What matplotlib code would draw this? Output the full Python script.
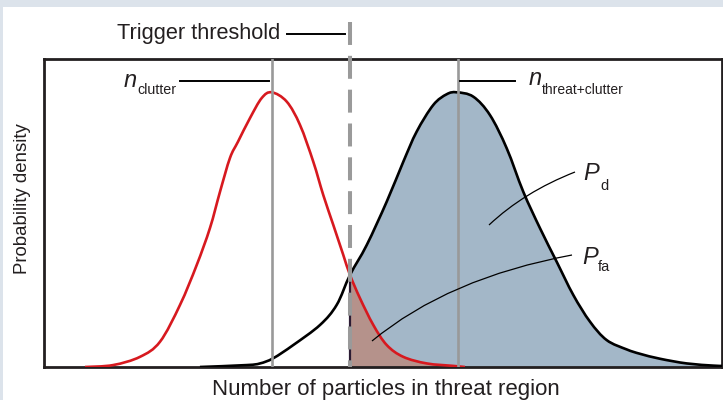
import matplotlib
matplotlib.use("Agg")
import matplotlib.pyplot as plt
import numpy as np
from matplotlib.path import Path
from matplotlib.patches import PathPatch, Rectangle
from matplotlib.transforms import Affine2D

plt.rcParams['font.family'] = ['Liberation Sans', 'DejaVu Sans']

# clutter-only distribution
clutter_x = [6.05, 10.18, 14.16, 17.11, 20.06, 22.52, 24.48, 25.96, 27.43, 28.61, 30.38,
             32.11, 33.58, 35.80, 37.76, 39.72, 41.19, 42.67, 44.14, 45.13, 46.61, 48.57,
             50.55, 52.99, 56.45, 60.37, 62.09]
clutter_y = [0.0, 0.007, 0.037, 0.092, 0.226, 0.371, 0.506, 0.638, 0.761, 0.820, 0.906,
             0.979, 1.000, 0.966, 0.881, 0.747, 0.626, 0.517, 0.408, 0.335, 0.250, 0.153,
             0.080, 0.037, 0.013, 0.004, 0.0]

# threat + clutter distribution
threat_x = [23.0, 29.90, 31.86, 33.82, 36.77, 40.71, 43.17, 45.13, 47.60, 50.55, 52.99,
            54.97, 57.42, 59.40, 60.87, 63.32, 65.78, 68.25, 70.69, 73.16, 75.62, 78.07,
            80.53, 82.99, 85.94, 87.91, 90.86, 94.79, 98.72, 100.0]
threat_y = [0.0, 0.007, 0.013, 0.032, 0.080, 0.153, 0.226, 0.335, 0.444, 0.602, 0.747,
            0.857, 0.954, 0.993, 1.000, 0.984, 0.917, 0.796, 0.638, 0.505, 0.383, 0.262,
            0.165, 0.098, 0.064, 0.048, 0.030, 0.013, 0.005, 0.004]

threshold = 45.13
n_clutter = 33.7
n_threat = 61.0


def smooth_path(xs, ys, start=0, fill=False):
    # catmull-rom through the read points, as bezier segments
    P = np.column_stack([xs, ys]).astype(float)
    n = len(P)
    verts = [P[start]]
    codes = [Path.MOVETO]
    for i in range(start, n - 1):
        p0 = P[max(i - 1, 0)]
        p1 = P[i]
        p2 = P[i + 1]
        p3 = P[min(i + 2, n - 1)]
        verts += [p1 + (p2 - p0) / 6, p2 - (p3 - p1) / 6, p2]
        codes += [Path.CURVE4] * 3
    if fill:
        verts += [(P[-1][0], 0), (P[start][0], 0), (0, 0)]
        codes += [Path.LINETO, Path.LINETO, Path.CLOSEPOLY]
    return Path(verts, codes)


W, H = 723, 400
fig = plt.figure(figsize=(7.23, 4.0), dpi=100)
fig.patch.set_facecolor('white')
bg = '#dce3eb'
fig.patches.append(Rectangle((0, 1 - 7 / H), 1, 7 / H, transform=fig.transFigure,
                             facecolor=bg, edgecolor='none', zorder=0))
fig.patches.append(Rectangle((0, 0), 3 / W, 1, transform=fig.transFigure,
                             facecolor=bg, edgecolor='none', zorder=0))

ax = fig.add_axes([44 / W, 33 / H, 678 / W, 308 / H])
ax.set_xlim(0, 100)
ax.set_ylim(0, 1.1212)
ax.set_xticks([])
ax.set_yticks([])
for s in ax.spines.values():
    s.set_color('#231f20')
    s.set_linewidth(2.0)

i_thr_t = threat_x.index(threshold)
i_thr_c = clutter_x.index(threshold)

ax.add_patch(PathPatch(smooth_path(threat_x, threat_y, i_thr_t, fill=True),
                       facecolor='#a3b7c8', edgecolor='none', zorder=1))
ax.add_patch(PathPatch(smooth_path(clutter_x, clutter_y, i_thr_c, fill=True),
                       facecolor='#b5928b', edgecolor='none', zorder=2))
ax.plot([threshold, threshold], [0, 0.335], color='#2b1b33', lw=1.6, zorder=3)

ax.add_patch(PathPatch(smooth_path(threat_x, threat_y), facecolor='none',
                       edgecolor='black', lw=1.9, zorder=4))
ax.add_patch(PathPatch(smooth_path(clutter_x, clutter_y), facecolor='none',
                       edgecolor='#d7191f', lw=1.9, zorder=4))

ax.axvline(n_clutter, color='#999999', lw=1.9, zorder=5)
ax.axvline(n_threat, color='#999999', lw=1.9, zorder=5)

ax.plot([threshold, threshold], [1.257, 0], color='#9a9a9a', lw=2.9,
        linestyle=(0, (5.7, 2.7)), dash_capstyle='butt', clip_on=False, zorder=6)

# pixel transform (origin top-left)
pix = Affine2D().scale(1 / W, -1 / H).translate(0, 1) + fig.transFigure

def leader(x0, x1, y):
    fig.add_artist(plt.Line2D([x0, x1], [y, y], transform=pix, color='black', lw=1.4))

def curve(p0, c, p1):
    path = Path([p0, c, p1], [Path.MOVETO, Path.CURVE3, Path.CURVE3])
    fig.add_artist(PathPatch(path, transform=pix, facecolor='none', edgecolor='black', lw=0.9))

def label(x, y, s, size, style='normal'):
    fig.text(x / W, 1 - y / H, s, fontsize=size, style=style, color='#231f20',
             ha='left', va='baseline')

label(117, 39.5, 'Trigger threshold', 15.7)
leader(287, 345, 33.7)

label(124, 87, 'n', 17, 'italic')
label(137, 94.5, 'clutter', 10.3)
leader(180, 269, 80.7)

label(529, 85, 'n', 17, 'italic')
label(541.5, 93.5, 'threat+clutter', 10)
leader(460, 515, 80.7)

label(583, 180.5, 'P', 17, 'italic')
label(600, 189.5, 'd', 10.5)
curve((489, 225), (524, 192), (575, 172))

label(582, 263.5, 'P', 17, 'italic')
label(598, 271, 'fa', 10.5)
curve((372, 341), (448, 278), (572, 255))

fig.text(211.5 / W, 1 - 395 / H, 'Number of particles in threat region', fontsize=16,
         color='#231f20', ha='left', va='baseline')
fig.text(23 / W, 1 - 199 / H, 'Probability density', fontsize=13.4, color='#231f20',
         rotation=90, ha='center', va='center')

fig.savefig('out.png', dpi=100)
